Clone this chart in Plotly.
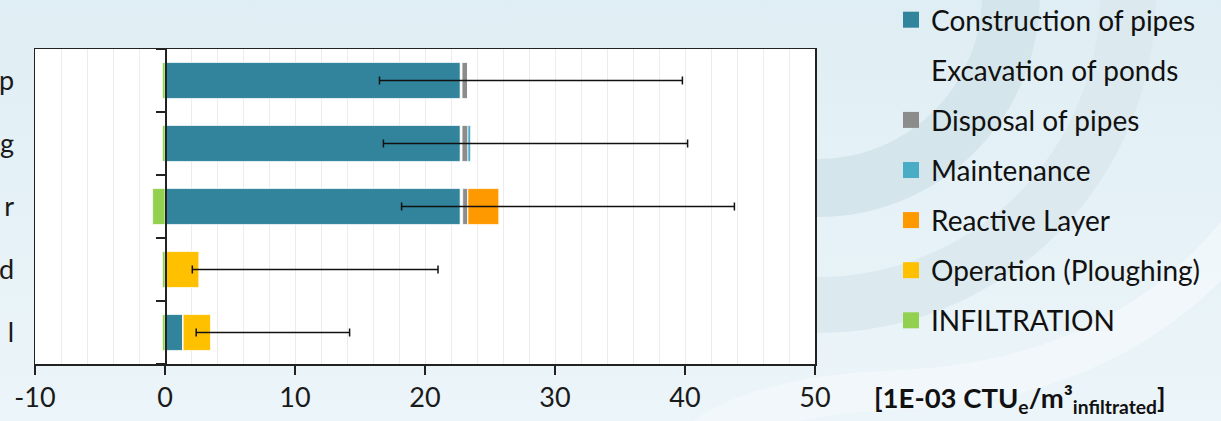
import base64
import plotly.graph_objects as go

# ---------------- data ----------------
categories = ["p", "g", "r", "d", "l"]  # top to bottom (labels are cut off at the left edge in the source)

construction = [22.7, 22.7, 22.7, 0.0, 1.35]
excavation = [0.15, 0.15, 0.2, 0.0, 0.05]
disposal = [0.45, 0.45, 0.4, 0.0, 0.0]
maintenance = [0.0, 0.25, 0.0, 0.0, 0.0]
reactive = [0.0, 0.0, 2.4, 0.0, 0.0]
operation = [0.0, 0.0, 0.0, 2.6, 2.1]
infiltration = [-0.2, -0.2, -0.95, -0.2, -0.2]

err_low = [16.5, 16.8, 18.2, 2.1, 2.4]
err_high = [39.8, 40.2, 43.8, 21.0, 14.2]

series_names = ["Construction of pipes", "Excavation of ponds", "Disposal of pipes",
                "Maintenance", "Reactive Layer", "Operation (Ploughing)", "INFILTRATION"]
series_values = [construction, excavation, disposal, maintenance, reactive, operation, infiltration]
series_colors = ["#31849B", "rgba(255,255,255,0)", "#8C8C8C", "#4BACC6", "#FF9900", "#FFC000", "#92D050"]

x_ticks = [-10, 0, 10, 20, 30, 40, 50]
x_ticktext = ["-10", "0", "10", "20", "30", "40", "50"]

FONT = "Lato"
W, H = 1221, 421
ML, MR, MT, MB = 35, 406, 49, 57

# ---------------- background decoration (svg) ----------------
svg = f'''<svg xmlns="http://www.w3.org/2000/svg" width="{W}" height="{H}" viewBox="0 0 {W} {H}">
<defs><linearGradient id="g" x1="0" y1="0" x2="0" y2="1">
<stop offset="0" stop-color="#dfeef4"/><stop offset="1" stop-color="#ecf5f9"/></linearGradient></defs>
<rect x="0" y="0" width="{W}" height="{H}" fill="url(#g)"/>
<path d="M 818 -198 A 193 193 0 0 1 818 188 L 600 188" fill="none" stroke="#d5e5ec" stroke-width="58"/>
<path d="M 818 -315 A 310 310 0 0 1 818 305 L 600 305" fill="none" stroke="#dceaf0" stroke-width="56"/>
<path d="M 700 440 Q 760 395 900 390 Q 1120 380 1240 230" fill="none" stroke="#f3f8fb" stroke-width="40" opacity="0.8"/>
</svg>'''
uri = "data:image/svg+xml;base64," + base64.b64encode(svg.encode()).decode()

pw, ph = W - ML - MR, H - MT - MB

fig = go.Figure()
for name, vals, col in zip(series_names, series_values, series_colors):
    lw = 0 if name == "Excavation of ponds" else 1
    fig.add_trace(go.Bar(
        y=categories, x=vals, name=name, orientation="h",
        marker=dict(color=col, line=dict(color="rgba(255,255,255,0.7)", width=lw)),
        legendgroup=name, showlegend=False,
    ))
    # legend entry with a larger square key
    fig.add_trace(go.Scatter(
        x=[None], y=[None], mode="markers", name=name, legendgroup=name,
        marker=dict(symbol="square", size=16, color=col, line=dict(width=0)),
        hoverinfo="skip",
    ))

# error bars (range low..high), anchored at the positive total
totals = [sum(v[i] for v in series_values if v[i] > 0) for i in range(len(categories))]
plus = [h - t for h, t in zip(err_high, totals)]
minus = [t - l for t, l in zip(totals, err_low)]
fig.add_trace(go.Scatter(
    x=totals, y=categories, mode="markers", marker=dict(size=2, opacity=0),
    error_x=dict(type="data", symmetric=False, array=plus, arrayminus=minus,
                 color="#111111", thickness=1.5, width=4),
    showlegend=False, hoverinfo="skip",
))
# dummy trace for the axis drawn at x = 0
fig.add_trace(go.Scatter(x=[None], y=[None], yaxis="y2", showlegend=False, hoverinfo="skip"))

fig.update_layout(
    width=W, height=H,
    margin=dict(l=ML, r=MR, t=MT, b=MB, pad=0, autoexpand=False),
    barmode="relative", bargap=0.43,
    paper_bgcolor="#e3f0f5", plot_bgcolor="rgba(0,0,0,0)",
    font=dict(family=FONT, size=27, color="#1a1a1a"),
    showlegend=True,
    legend=dict(
        x=(891 - ML) / pw, xanchor="left", y=1 + (MT + 5) / ph, yanchor="top",
        bgcolor="rgba(0,0,0,0)", font=dict(family=FONT, size=28, color="#111111"),
        traceorder="grouped", tracegroupgap=10.7, itemclick=False, maxheight=1.0,
        itemsizing="trace",
    ),
    xaxis=dict(
        range=[-10, 50], tickvals=x_ticks, ticktext=x_ticktext, ticks="outside", ticklen=9,
        tickwidth=1.5, tickcolor="#222", showline=True, linecolor="#222", linewidth=1.5,
        mirror=True, showgrid=True, gridcolor="#ececec", gridwidth=1, zeroline=False,
        minor=dict(dtick=2, showgrid=True, gridcolor="#ececec", gridwidth=1, ticks=""),
        tickfont=dict(family=FONT, size=27, color="#1a1a1a"), ticklabelstandoff=0,
        automargin=False, fixedrange=True,
    ),
    yaxis=dict(
        autorange="reversed", showline=True, linecolor="#222", linewidth=1.5, mirror=True,
        ticks="", showgrid=False, zeroline=False,
        tickfont=dict(family=FONT, size=27, color="#1a1a1a"), ticklabelstandoff=14,
        automargin=False, fixedrange=True,
    ),
    yaxis2=dict(
        overlaying="y", anchor="free", position=(0 - (-10)) / 60, side="left",
        range=[-0.5, 4.5], tickvals=[-0.5, 0.5, 1.5, 2.5, 3.5, 4.5], showticklabels=False,
        ticks="outside", ticklen=9, tickwidth=1.5, tickcolor="#222",
        showline=True, linecolor="#222", linewidth=1.5, showgrid=False, zeroline=False,
        fixedrange=True,
    ),
    images=[dict(source=uri, xref="paper", yref="paper",
                 x=-ML / pw, y=1 + MT / ph, sizex=W / pw, sizey=H / ph,
                 xanchor="left", yanchor="top", sizing="stretch", layer="below")],
    shapes=[dict(type="rect", xref="x domain", yref="y domain", x0=0, x1=1, y0=0, y1=1,
                 fillcolor="white", line=dict(width=0), layer="below")],
    annotations=[dict(
        text="<b>[1E-03 CTU<sub>e</sub>/m³<sub>infiltrated</sub>]</b>",
        xref="paper", yref="paper", x=(872 - ML) / pw, y=-(399 - (H - MB)) / ph,
        xanchor="left", yanchor="middle", showarrow=False,
        font=dict(family=FONT, size=27.5, color="#111111"),
    )],
)

fig.write_html(
    "out.html",
    config={"displayModeBar": False, "staticPlot": True},
    post_script="document.body.style.margin='0';document.body.style.overflow='hidden';",
)
